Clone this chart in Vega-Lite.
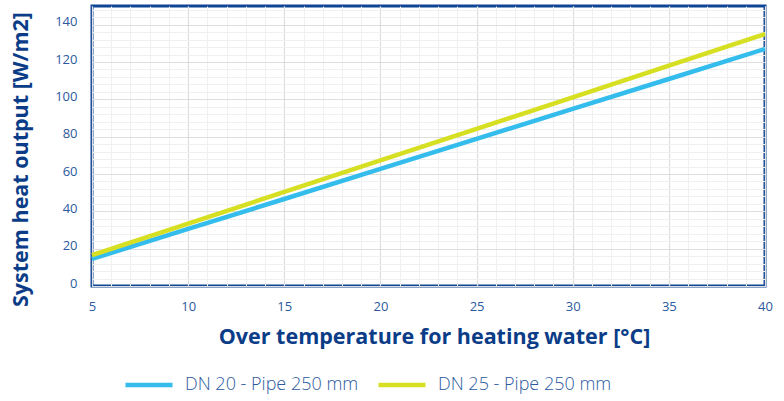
{
  "$schema": "https://vega.github.io/schema/vega-lite/v6.json",
  "width": 673,
  "height": 280,
  "autosize": {"type": "none"},
  "padding": {"left": 92, "top": 6, "right": 19, "bottom": 115},
  "background": "white",
  "config": {
    "font": "Open Sans",
    "view": {"stroke": "#0f4596", "strokeWidth": 3},
    "axis": {"domain": false, "ticks": false}
  },
  "data": {
    "values": [
      {"t": 5, "q": 14.5, "series": "DN 20 - Pipe 250 mm"},
      {"t": 10, "q": 30.6, "series": "DN 20 - Pipe 250 mm"},
      {"t": 15, "q": 46.6, "series": "DN 20 - Pipe 250 mm"},
      {"t": 20, "q": 62.7, "series": "DN 20 - Pipe 250 mm"},
      {"t": 25, "q": 78.8, "series": "DN 20 - Pipe 250 mm"},
      {"t": 30, "q": 94.9, "series": "DN 20 - Pipe 250 mm"},
      {"t": 35, "q": 110.9, "series": "DN 20 - Pipe 250 mm"},
      {"t": 40, "q": 127.0, "series": "DN 20 - Pipe 250 mm"},
      {"t": 5, "q": 16.5, "series": "DN 25 - Pipe 250 mm"},
      {"t": 10, "q": 33.4, "series": "DN 25 - Pipe 250 mm"},
      {"t": 15, "q": 50.4, "series": "DN 25 - Pipe 250 mm"},
      {"t": 20, "q": 67.3, "series": "DN 25 - Pipe 250 mm"},
      {"t": 25, "q": 84.2, "series": "DN 25 - Pipe 250 mm"},
      {"t": 30, "q": 101.1, "series": "DN 25 - Pipe 250 mm"},
      {"t": 35, "q": 118.1, "series": "DN 25 - Pipe 250 mm"},
      {"t": 40, "q": 135.0, "series": "DN 25 - Pipe 250 mm"}
    ]
  },
  "layer": [
    {
      "mark": {"type": "line", "opacity": 0},
      "encoding": {
        "x": {
          "field": "t", "type": "quantitative",
          "scale": {"domain": [5, 40], "nice": false, "zero": false},
          "axis": {
            "orient": "bottom", "labels": false, "title": null,
            "values": [5,6,7,8,9,10,11,12,13,14,15,16,17,18,19,20,21,22,23,24,25,26,27,28,29,30,31,32,33,34,35,36,37,38,39,40],
            "grid": true, "gridColor": "#f0f0f0", "gridWidth": 1
          }
        },
        "y": {
          "field": "q", "type": "quantitative",
          "scale": {"domain": [0, 150], "nice": false},
          "axis": {
            "orient": "left", "labels": false, "title": null,
            "values": [0,4,8,12,16,20,24,28,32,36,40,44,48,52,56,60,64,68,72,76,80,84,88,92,96,100,104,108,112,116,120,124,128,132,136,140,144,148],
            "grid": true, "gridColor": "#f0f0f0", "gridWidth": 1
          }
        },
        "detail": {"field": "series"}
      }
    },
    {
      "mark": {"type": "line", "strokeWidth": 4.5},
      "encoding": {
        "x": {
          "field": "t", "type": "quantitative",
          "axis": {
            "orient": "bottom",
            "values": [5, 10, 15, 20, 25, 30, 35, 40],
            "grid": true, "gridColor": "#dedede", "gridWidth": 1.2,
            "labelFontSize": 13, "labelColor": "#2c5aa0", "labelPadding": 14,
            "labelFlush": false,
            "title": "Over temperature for heating water [°C]",
            "titleFontSize": 21.5, "titleFontWeight": "bold", "titleColor": "#0b3c87",
            "titlePadding": 13, "titleX": 342
          }
        },
        "y": {
          "field": "q", "type": "quantitative",
          "axis": {
            "orient": "left",
            "values": [0, 20, 40, 60, 80, 100, 120, 140],
            "grid": true, "gridColor": "#dedede", "gridWidth": 1.2,
            "labelFontSize": 13, "labelColor": "#2c5aa0", "labelPadding": 15,
            "labelOffset": -3, "labelFlush": false,
            "title": "System heat output [W/m2]",
            "titleFontSize": 21.5, "titleFontWeight": "bold", "titleColor": "#0b3c87",
            "titlePadding": 22, "titleY": 153
          }
        },
        "color": {
          "field": "series", "type": "nominal",
          "scale": {"domain": ["DN 20 - Pipe 250 mm", "DN 25 - Pipe 250 mm"], "range": ["#34bdec", "#d6df22"]},
          "legend": {
            "title": null, "orient": "none", "direction": "horizontal",
            "legendX": 31, "legendY": 353,
            "symbolType": "stroke", "symbolSize": 2209, "symbolStrokeWidth": 4.5,
            "labelFontSize": 18, "labelFont": "Open Sans", "labelFontWeight": 300,
            "labelColor": "#2c5aa0", "labelOffset": 10, "columnSpacing": 28,
            "labelLimit": 400
          }
        }
      }
    }
  ],
  "resolve": {"axis": {"x": "independent", "y": "independent"}}
}
